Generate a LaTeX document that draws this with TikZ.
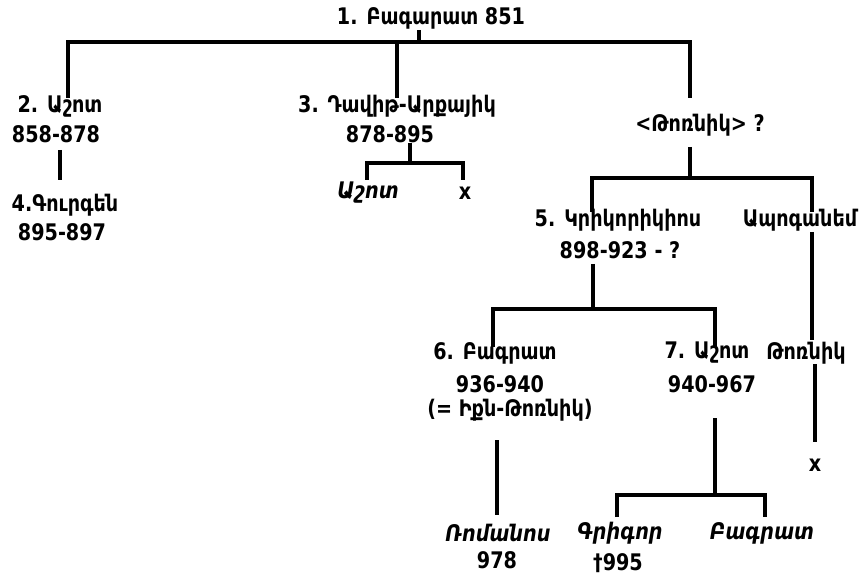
\documentclass[tikz,border=0pt]{standalone}
\usepackage{fontspec}
\setmainfont{DejaVu Sans}[FakeStretch=0.84]
\usetikzlibrary{calc, positioning}

\tikzset{
    person/.style={inner sep=1pt, font=\fontsize{13}{15}\selectfont\bfseries},
    heir/.style={person, font=\fontsize{13}{15}\selectfont\bfseries\itshape},
    kin/.style={line width=2pt}
}

\begin{document}
\begin{tikzpicture}[x=0.02cm, y=-0.02cm]
        \useasboundingbox (0,0) rectangle (863,581);

        % generations
        \node[person] (N1) at (431,18) {1. Բագարատ 851};

        \node[person] (N2) at (60,106) {2. Աշոտ};
        \node[person] (D2) at (56,134) {858-878};
        \node[person] (N3) at (397,106) {3. Դավիթ-Արքայիկ};
        \node[person] (D3) at (390,134) {878-895};
        \node[person] (NT) at (700,125) {<Թոռնիկ> ?};

        \node[person] (N4) at (65,205) {4.Գուրգեն};
        \node[person] (D4) at (62,232) {895-897};
        \node[heir] (A3) at (368,193) {Աշոտ};
        \node[person] (X3) at (465,193) {x};
        \node[person] (N5) at (618,220) {5. Կրիկորիկիոս};
        \node[person] (D5) at (620,250) {898-923 - ?};
        \node[person] (NA) at (800,220) {Ապոգանեմ};

        \node[person] (N6) at (495,353) {6. Բագրատ};
        \node[person] (D6) at (500,384) {936-940};
        \node[person] (E6) at (510,410) {(= Իքն-Թոռնիկ)};
        \node[person] (N7) at (707,353) {7. Աշոտ};
        \node[person] (D7) at (712,384) {940-967};
        \node[person] (NO) at (806,353) {Թոռնիկ};
        \node[person] (XO) at (815,465) {x};

        \node[heir] (R6) at (498,533) {Ռոմանոս};
        \node[person] (DR) at (497,560) {978};
        \node[heir] (G7) at (620,533) {Գրիգոր};
        \node[person] (DG) at (618,563) {†995};
        \node[heir] (B7) at (762,533) {Բագրատ};

        % line ends under and over the names
        \coordinate (N1-foot) at (419,30);
        \coordinate (F1) at (419,42);
        \coordinate (N2-head) at (68,98);
        \coordinate (N3-head) at (397,98);
        \coordinate (NT-head) at (690,98);
        \coordinate (D2-foot) at (60,150);
        \coordinate (N4-head) at (60,180);

        \coordinate (D3-foot) at (410,143);
        \coordinate (F3) at (410,163);
        \coordinate (A3-head) at (367,180);
        \coordinate (X3-head) at (463,180);

        \coordinate (NT-foot) at (690,147);
        \coordinate (FT) at (690,178);
        \coordinate (N5-head) at (592,212);
        \coordinate (NA-head) at (812,212);
        \coordinate (NA-foot) at (812,232);
        \coordinate (NO-head) at (812,340);

        \coordinate (D5-foot) at (593,264);
        \coordinate (F5) at (593,309);
        \coordinate (N6-head) at (493,347);
        \coordinate (N7-head) at (715,347);

        \coordinate (NO-foot) at (815,364);
        \coordinate (XO-head) at (815,442);
        \coordinate (E6-foot) at (497,440);
        \coordinate (R6-head) at (497,515);

        \coordinate (D7-foot) at (715,418);
        \coordinate (F7) at (715,495);
        \coordinate (G7-head) at (617,517);
        \coordinate (B7-head) at (765,517);

        % lines of descent
        \draw [kin] (N1-foot) -- (F1);
        \draw [kin] (N2-head) |- (F1) -| (NT-head);
        \draw [kin] (F1 -| N3-head) -- (N3-head);
        \draw [kin] (D2-foot) -- (N4-head);

        \draw [kin] (D3-foot) -- (F3);
        \draw [kin] (A3-head) |- (F3) -| (X3-head);

        \draw [kin] (NT-foot) -- (FT);
        \draw [kin] (N5-head) |- (FT) -| (NA-head);
        \draw [kin] (NA-foot) -- (NO-head);

        \draw [kin] (D5-foot) -- (F5);
        \draw [kin] (N6-head) |- (F5) -| (N7-head);

        \draw [kin] (NO-foot) -- (XO-head);
        \draw [kin] (E6-foot) -- (R6-head);

        \draw [kin] (D7-foot) -- (F7);
        \draw [kin] (G7-head) |- (F7) -| (B7-head);
\end{tikzpicture}
\end{document}
